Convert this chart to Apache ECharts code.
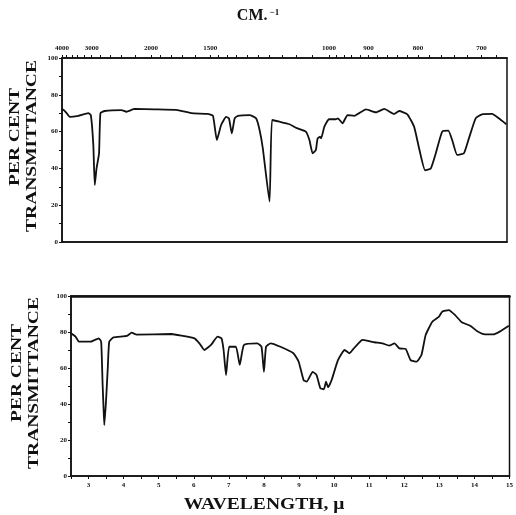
<!DOCTYPE html>
<html>
<head>
<meta charset="utf-8">
<script src="https://cdn.jsdelivr.net/npm/echarts@6/dist/echarts.min.js"></script>
<style>
  html, body { margin: 0; padding: 0; background: #fff; }
  #chart { width: 516px; height: 515px; }
</style>
</head>
<body>
<div id="chart"></div>
<script>
// 上图 wavelength (μ) / per cent transmittance
let topWave  = [2.50,2.56,2.63,2.72,2.96,3.24,3.31,3.38,3.42,3.47,3.54,3.58,3.70,4.17,4.31,4.54,5.10,5.75,6.13,6.59,6.74,6.85,6.97,7.11,7.19,7.27,7.35,7.44,7.77,7.95,8.05,8.14,8.33,8.40,8.61,8.89,9.07,9.35,9.45,9.54,9.63,9.68,9.75,9.78,9.87,10.00,10.19,10.25,10.38,10.52,10.71,11.04,11.32,11.55,11.83,11.97,12.20,12.39,12.53,12.70,12.86,13.00,13.18,13.35,13.46,13.60,13.79,13.93,14.12,14.30,14.58,14.77,14.98]
let topTrans = [72.3,71.5,70.0,68.0,68.6,70.0,69.0,52.7,31.0,40.0,48.0,70.0,71.2,71.7,70.8,72.3,72.1,71.7,70.0,69.6,68.6,55.4,63.6,68.0,67.2,59.0,67.2,68.6,69.0,67.2,60.9,51.0,21.9,66.3,65.4,64.0,62.1,60.0,55.4,48.2,50.0,56.3,57.2,56.3,62.7,66.7,66.7,67.2,64.5,69.0,68.6,72.1,70.5,72.3,69.6,71.2,69.4,62.7,51.0,39.0,40.0,48.2,60.0,60.5,55.4,47.3,48.2,56.3,67.2,69.4,69.6,67.2,64.0]

// 下图
let botWave  = [2.50,2.63,2.73,3.06,3.29,3.36,3.40,3.43,3.45,3.50,3.55,3.59,3.71,4.09,4.23,4.37,5.36,5.65,6.02,6.16,6.30,6.49,6.68,6.79,6.85,6.92,7.01,7.20,7.31,7.43,7.81,7.93,8.00,8.06,8.19,8.47,8.84,8.99,9.13,9.22,9.39,9.50,9.61,9.71,9.77,9.83,9.93,10.11,10.30,10.44,10.54,10.77,10.82,11.15,11.38,11.57,11.72,11.86,12.04,12.18,12.35,12.49,12.61,12.80,12.99,13.08,13.27,13.45,13.64,13.88,14.07,14.30,14.54,14.72,14.98]
let botTrans = [79.3,77.4,74.6,74.6,76.5,74.6,51.5,36.7,28.3,42.2,60.7,74.6,77.0,77.8,79.6,78.5,78.9,78.0,76.5,73.7,70.0,72.8,77.4,76.5,70.0,56.1,71.8,71.8,61.7,72.8,73.7,71.8,57.9,71.8,73.7,71.8,68.2,63.5,53.3,52.4,57.9,56.1,48.7,48.2,52.4,49.3,53.3,64.4,70.0,68.2,70.4,75.2,75.6,74.3,73.7,72.4,73.7,70.9,70.6,64.4,63.5,67.2,78.3,85.7,88.5,91.3,92.2,89.4,85.4,83.5,80.6,78.7,78.7,80.2,83.5]

// 刻度
let waveTicks = [3,4,5,6,7,8,9,10,11,12,13,14,15]
let waveMinor = [2.5,3,3.5,4,4.5,5,5.5,6,6.5,7,7.5,8,8.5,9,9.5,10,10.5,11,11.5,12,12.5,13,13.5,14,14.5,15]
let cmLabels  = [4000,3000,2000,1500,1000,900,800,700]
let cmTicks   = [4000,3800,3600,3400,3200,3000,2800,2600,2400,2200,2000,1900,1800,1700,1600,1500,1450,1400,1350,1300,1250,1200,1150,1100,1050,1000,980,960,940,920,900,880,860,840,820,800,780,760,740,720,700,680]

let pairs = (xs, ys) => xs.map((v,i) => [v, ys[i]])
let ink = '#111'
let tickFont = {fontSize: 7, fontWeight: 'bold', fontFamily: 'Liberation Serif', color: ink}
let labelFont = 'bold 15px "Liberation Serif"'

let myChart = echarts.init(document.getElementById('chart'), null, {renderer: 'canvas'})

function yAxisOf(gridIndex){
  return {
    type: 'value', gridIndex: gridIndex, min: 0, max: 100, interval: 20,
    axisLine: {show: true, lineStyle: {color: ink, width: 1.5}},
    axisTick: {show: true, length: 3, lineStyle: {color: ink}},
    minorTick: {show: true, splitNumber: 2, length: 3, lineStyle: {color: ink}},
    splitLine: {show: false},
    axisLabel: Object.assign({margin: 4}, tickFont)
  }
}

//- 竖排标题
function sideLabel(text, x, y){
  return {type: 'text', x: x, y: y, rotation: Math.PI / 2, scaleX: 1.3,
    style: {text: text, font: labelFont, fill: ink, align: 'center', verticalAlign: 'middle'}}
}

let option = {
  animation: false,
  backgroundColor: '#fff',
  grid: [
    {left: 62, right: 9, top: 58, height: 184, show: true, borderColor: ink, borderWidth: 1.5},
    {left: 71, right: 3, top: 296, height: 180, show: true, borderColor: ink, borderWidth: 1.5}
  ],
  xAxis: [
    {type: 'value', gridIndex: 0, min: 2.5, max: 15, position: 'bottom',
      axisLine: {show: true, onZero: false, lineStyle: {color: ink, width: 1.5}},
      axisTick: {show: false}, axisLabel: {show: false}, splitLine: {show: false}},
    {type: 'value', gridIndex: 0, min: 2.5, max: 15, position: 'top',
      axisLine: {show: true, onZero: false, lineStyle: {color: ink, width: 1.5}},
      axisTick: {show: true, length: 3, customValues: cmTicks.map(v => 10000 / v), lineStyle: {color: ink}},
      axisLabel: Object.assign({margin: 6, showMinLabel: true, showMaxLabel: true, hideOverlap: false,
        customValues: cmLabels.map(v => 10000 / v),
        formatter: v => String(Math.round(10000 / v / 100) * 100)}, tickFont),
      splitLine: {show: false}},
    {type: 'value', gridIndex: 1, min: 2.5, max: 15, position: 'bottom',
      axisLine: {show: true, onZero: false, lineStyle: {color: ink, width: 1.5}},
      axisTick: {show: true, length: 3, customValues: waveMinor, lineStyle: {color: ink}},
      axisLabel: Object.assign({margin: 6, customValues: waveTicks, formatter: v => String(v)}, tickFont),
      splitLine: {show: false}},
    {type: 'value', gridIndex: 1, min: 2.5, max: 15, position: 'top',
      axisLine: {show: true, onZero: false, lineStyle: {color: ink, width: 2.5}},
      axisTick: {show: false}, axisLabel: {show: false}, splitLine: {show: false}}
  ],
  yAxis: [yAxisOf(0), yAxisOf(1)],
  series: [
    {type: 'line', xAxisIndex: 0, yAxisIndex: 0, data: pairs(topWave, topTrans), showSymbol: false, smooth: 0.15,
      lineStyle: {color: ink, width: 1.8}},
    {type: 'line', xAxisIndex: 2, yAxisIndex: 1, data: pairs(botWave, botTrans), showSymbol: false, smooth: 0.15,
      lineStyle: {color: ink, width: 1.8}}
  ],
  graphic: [
    {type: 'text', left: 'center', top: 8, style: {
      text: '{a|CM.}{b|−1}', fill: ink,
      rich: {a: {font: 'bold 16px "Liberation Serif"'}, b: {font: 'bold 9px "Liberation Serif"', verticalAlign: 'top', padding: [0,0,6,2]}}}},
    sideLabel('PER CENT', 15, 137),
    sideLabel('TRANSMITTANCE', 32, 146),
    sideLabel('PER CENT', 17, 373),
    sideLabel('TRANSMITTANCE', 34, 383),
    {type: 'text', x: 264, y: 505, scaleX: 1.15, style: {text: 'WAVELENGTH, μ', font: 'bold 17px "Liberation Serif"', fill: ink, align: 'center', verticalAlign: 'middle'}}
  ]
}

myChart.setOption(option)
window.addEventListener('resize', function(){ myChart.resize() })
</script>
</body>
</html>
